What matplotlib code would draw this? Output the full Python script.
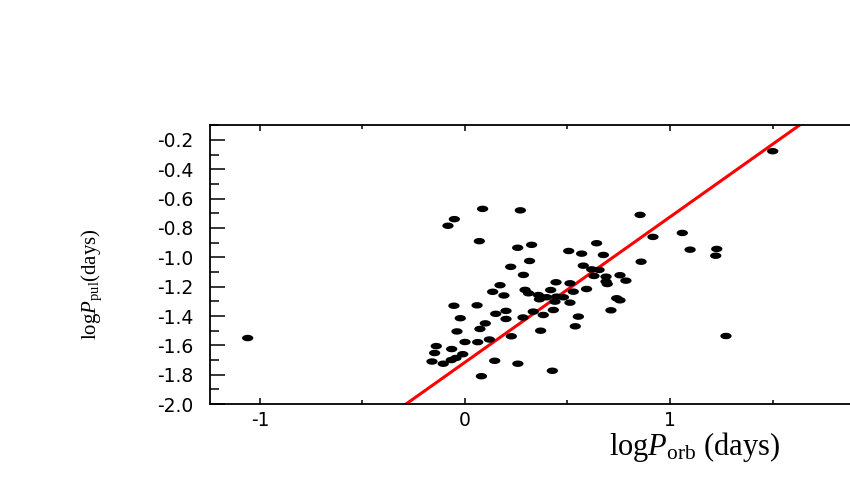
import matplotlib
matplotlib.use('Agg')
import matplotlib.pyplot as plt
import numpy as np
from matplotlib.path import Path
from matplotlib.ticker import MultipleLocator

# log P_orb (days) and log P_pul (days)
log_porb = [
    -1.06, 0.086, 0.27, -0.052, -0.083, 0.07, 0.257, 0.325, 0.223, 0.315,
    0.285, 0.171, 0.135, 0.19, 0.293, 0.31, -0.054, 0.059, 0.15, 0.2,
    0.2, 0.283, 0.333, -0.023, 0.099, 0.073, -0.039, 0.226, 0.119, 0.062,
    0.0, -0.14, -0.148, -0.065, -0.011, -0.044, -0.067, -0.161, -0.106, 0.145,
    0.258, 0.08, 1.501, 0.854, 1.06, 0.917, 1.098, 1.228, 1.223, 0.506,
    0.569, 0.642, 0.675, 0.859, 0.577, 0.618, 0.654, 0.629, 0.688, 0.756,
    0.785, 0.694, 0.688, 0.444, 0.512, 0.593, 0.418, 0.528, 0.358, 0.363,
    0.398, 0.447, 0.48, 0.439, 0.512, 0.74, 0.756, 0.712, 0.431, 0.382,
    0.553, 0.538, 0.369, 1.273, 0.426,
]
log_ppul = [
    -1.55, -0.67, -0.68, -0.74, -0.785, -0.89, -0.935, -0.915, -1.065, -1.025,
    -1.12, -1.19, -1.235, -1.26, -1.222, -1.245, -1.33, -1.327, -1.385, -1.365,
    -1.42, -1.41, -1.37, -1.415, -1.45, -1.488, -1.505, -1.538, -1.56, -1.578,
    -1.577, -1.605, -1.652, -1.625, -1.66, -1.686, -1.70, -1.71, -1.725, -1.705,
    -1.725, -1.81, -0.277, -0.711, -0.834, -0.861, -0.948, -0.943, -0.989, -0.957,
    -0.975, -0.904, -0.984, -1.03, -1.057, -1.082, -1.086, -1.127, -1.132, -1.122,
    -1.159, -1.182, -1.165, -1.17, -1.177, -1.216, -1.223, -1.234, -1.257, -1.286,
    -1.272, -1.268, -1.272, -1.302, -1.309, -1.279, -1.293, -1.361, -1.359, -1.393,
    -1.404, -1.47, -1.5, -1.536, -1.773,
]

# linear fit drawn in red
fit_slope = 0.99
fit_intercept = -1.715

plt.rcParams['mathtext.fontset'] = 'custom'
plt.rcParams['mathtext.rm'] = 'Liberation Serif'
plt.rcParams['mathtext.it'] = 'Liberation Serif:italic'

fig = plt.figure(figsize=(8.5, 4.91), dpi=100)
ax = fig.add_axes([0.247, 0.177, 0.76, 0.568])

# the source picture is stretched sideways, so points are flat ellipses
t = np.linspace(0, 2 * np.pi, 40)
ellipse = Path(np.column_stack([1.75 * np.cos(t), np.sin(t)]), closed=True)
ax.scatter(log_porb, log_ppul, marker=ellipse, s=66, c='black',
           edgecolors='none', zorder=3)

xlim = (-1.244, 1.907)
xs = np.array(xlim)
ax.plot(xs, fit_slope * xs + fit_intercept, color='red', lw=2.2, zorder=2)

ax.set_xlim(xlim)
ax.set_ylim(-2.0, -0.1)

ax.xaxis.set_major_locator(MultipleLocator(1.0))
ax.xaxis.set_minor_locator(MultipleLocator(0.5))
ax.yaxis.set_major_locator(MultipleLocator(0.2))
ax.yaxis.set_minor_locator(MultipleLocator(0.1))

ax.tick_params(axis='both', which='both', direction='in', top=True,
               right=False, labelsize=13.5, width=1.1)
ax.tick_params(axis='x', which='major', length=4.5, pad=5)
ax.tick_params(axis='x', which='minor', length=3)
ax.tick_params(axis='y', which='major', length=11, pad=12)
ax.tick_params(axis='y', which='minor', length=6.5)
ax.yaxis.set_major_formatter(plt.FuncFormatter(lambda v, p: f'{v:.1f}'))
ax.xaxis.set_major_formatter(plt.FuncFormatter(lambda v, p: f'{v:.0f}'))

for side in ['left', 'bottom', 'top']:
    ax.spines[side].set_linewidth(1.3)
ax.spines['right'].set_visible(False)

fig.text(695 / 850, 1 - 447 / 491, r'$\mathrm{log}P_{\mathrm{orb}}$ (days)',
         family='Liberation Serif', fontsize=22, ha='center', va='center')
fig.text(92 / 850, 1 - 284 / 491, r'$\mathrm{log}P_{\mathrm{pul}}$(days)',
         family='Liberation Serif', fontsize=15, ha='center', va='center',
         rotation=90)

fig.savefig('out.png', dpi=100)
plt.close(fig)
